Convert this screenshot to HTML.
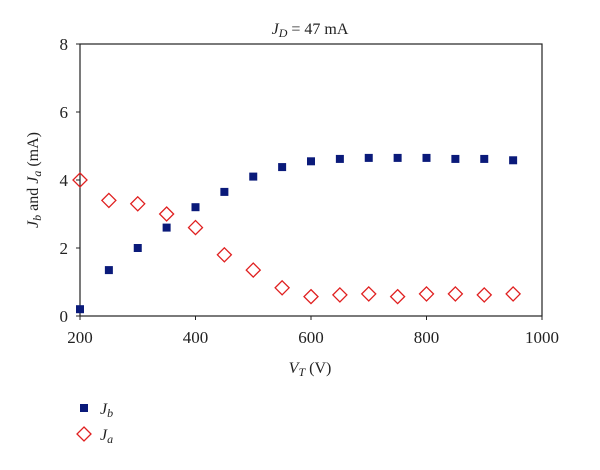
<!DOCTYPE html>
<html><head><meta charset="utf-8"><style>
body{margin:0;background:#fff;}
svg text{font-family:"Liberation Serif",serif;fill:#222;}
</style></head><body>
<svg width="600" height="465" xmlns="http://www.w3.org/2000/svg">
<text x="310" y="34" font-size="16" text-anchor="middle"><tspan font-style="italic">J</tspan><tspan font-style="italic" font-size="12" dy="3">D</tspan><tspan dy="-3"> = 47 mA</tspan></text>
<rect x="80" y="44" width="462" height="272" fill="none" stroke="#222" stroke-width="1.2"/>
<g id="axes"></g>
<g id="marks"></g>
<text x="310" y="373" font-size="16" text-anchor="middle"><tspan font-style="italic">V</tspan><tspan font-style="italic" font-size="12" dy="3">T</tspan><tspan dy="-3"> (V)</tspan></text>
<text transform="translate(38,180) rotate(-90)" font-size="16" text-anchor="middle"><tspan font-style="italic">J</tspan><tspan font-style="italic" font-size="12" dy="3">b</tspan><tspan dy="-3"> and </tspan><tspan font-style="italic">J</tspan><tspan font-style="italic" font-size="12" dy="3">a</tspan><tspan dy="-3"> (mA)</tspan></text>
<g>
<rect x="80" y="404" width="8" height="8" fill="#0a1a7a"/>
<text x="100" y="414" font-size="16" font-style="italic">J<tspan font-size="12" dy="3">b</tspan></text>
<polygon points="84,427 91,434 84,441 77,434" fill="none" stroke="#e02020" stroke-width="1.3"/>
<text x="100" y="440" font-size="16" font-style="italic">J<tspan font-size="12" dy="3">a</tspan></text>
</g>
</svg>
<script>
const vt=[200,250,300,350,400,450,500,550,600,650,700,750,800,850,900,950];
const jb=[0.2,1.35,2.0,2.6,3.2,3.65,4.1,4.38,4.55,4.62,4.65,4.65,4.65,4.62,4.62,4.58];
const ja=[4.0,3.4,3.3,3.0,2.6,1.8,1.35,0.83,0.57,0.62,0.65,0.57,0.65,0.65,0.62,0.65];
const xTicks=[200,400,600,800,1000];
const yTicks=[0,2,4,6,8];
const NS="http://www.w3.org/2000/svg";
const X=v=>80+(v-200)/800*462, Y=v=>316-v/8*272;
const axes=document.getElementById('axes'), marks=document.getElementById('marks');
function mk(t,a,p){const e=document.createElementNS(NS,t);for(const k in a)e.setAttribute(k,a[k]);p.appendChild(e);return e;}
xTicks.forEach(t=>{
 const l=mk('line',{x1:X(t),x2:X(t),y1:316,y2:320,stroke:'#222'},axes);
 
 
 const tx=mk('text',{x:X(t),y:343,'font-size':17,'text-anchor':'middle'},axes);tx.textContent=t;
 
 
});
yTicks.forEach(t=>{
 const l=mk('line',{x1:76,x2:80,y1:Y(t),y2:Y(t),stroke:'#222'},axes);
 
 
 const tx=mk('text',{x:68,y:Y(t)+6,'font-size':17,'text-anchor':'end'},axes);tx.textContent=t;
 
 
});
vt.forEach((v,i)=>{
 const r=mk('rect',{x:X(v)-4,y:Y(jb[i])-4,width:8,height:8,fill:'#0a1a7a'},marks);
 
 
 const cx=X(v),cy=Y(ja[i]);
 const d=mk('polygon',{points:`${cx},${cy-7} ${cx+7},${cy} ${cx},${cy+7} ${cx-7},${cy}`,fill:'none',stroke:'#e02020','stroke-width':1.3},marks);
 
 
});
</script>
</body></html>
